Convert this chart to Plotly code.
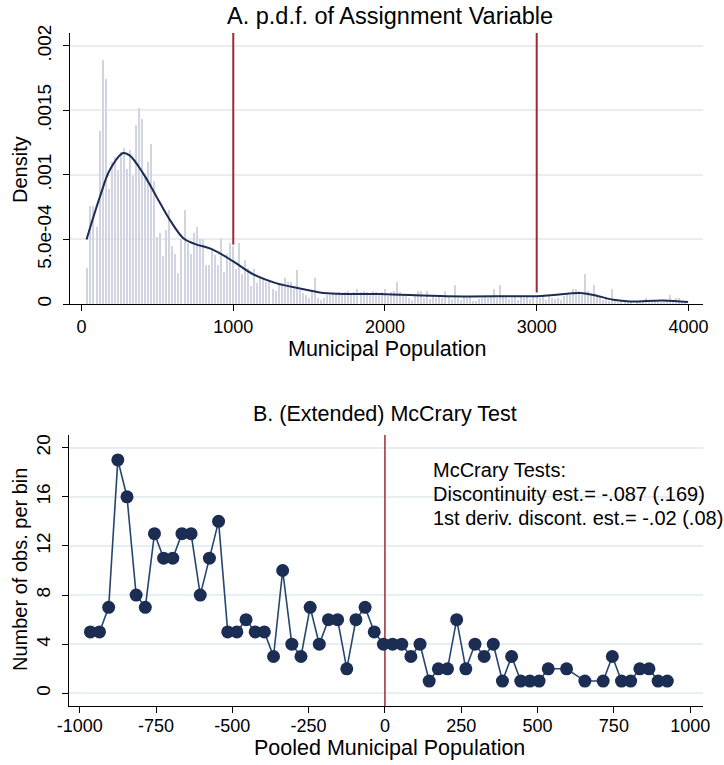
import plotly.graph_objects as go

W, H = 724, 765

# ---------------- Panel A data ----------------
hist_start = 40      # first bin centre
hist_width = 20      # bin width
hist_density_e3 = [  # density x 1e-3
    0.28, 0.76, 0.76, 0.60, 1.34, 1.89, 1.74, 0.89, 1.10, 1.14,
    1.04, 1.18, 1.21, 1.05, 1.19, 0.99, 1.39, 1.52, 1.43, 0.99,
    1.10, 1.24, 0.95, 0.52, 0.55, 0.37, 0.57, 0.73, 0.45, 0.39,
    0.24, 0.50, 0.73, 0.47, 0.39, 0.55, 0.60, 0.50, 0.50, 0.30,
    0.30, 0.42, 0.38, 0.30, 0.50, 0.25, 0.39, 0.47, 0.45, 0.27,
    0.47, 0.23, 0.34, 0.28, 0.14, 0.27, 0.16, 0.20, 0.20, 0.17,
    0.18, 0.12, 0.10, 0.15, 0.16, 0.20, 0.17, 0.17, 0.12, 0.26,
    0.11, 0.085, 0.07, 0.05, 0.11, 0.20, 0.05, 0.03, 0.05, 0.07,
    0.07, 0.085, 0.085, 0.09, 0.07, 0.09, 0.10, 0.08, 0.09, 0.12,
    0.09, 0.10, 0.09, 0.08, 0.10, 0.09, 0.07, 0.09, 0.12, 0.06,
    0.09, 0.10, 0.17, 0.09, 0.07, 0.07, 0.05, 0.03, 0.06, 0.10,
    0.10, 0.05, 0.10, 0.04, 0.06, 0.05, 0.06, 0.05, 0.10, 0.06,
    0.04, 0.15, 0.05, 0.03, 0.06, 0.05, 0.06, 0.02, 0.02, 0.04,
    0.05, 0.06, 0.05, 0.06, 0.12, 0.05, 0.15, 0.07, 0.06, 0.04,
    0.05, 0.06, 0.03, 0.06, 0.05, 0.06, 0.04, 0.06, 0.06, 0.05,
    0.07, 0.03, 0.06, 0.05, 0.04, 0.05, 0.03, 0.06, 0.07, 0.07,
    0.12, 0.12, 0.10, 0.07, 0.23, 0.10, 0.07, 0.15, 0.06, 0.05,
    0.03, 0.05, 0.02, 0.12, 0.02, 0.01, 0.02, 0.01, 0.02, 0.01,
    0.00, 0.02, 0.01, 0.02, 0.05, 0.02, 0.01, 0.02, 0.02, 0.01,
    0.03, 0.02, 0.07, 0.03, 0.05, 0.05, 0.02, 0.01,
]
hist_x = [hist_start + hist_width * i for i in range(len(hist_density_e3))]
hist_y = [v * 1e-3 for v in hist_density_e3]

kde_x = [33, 121, 187, 275, 319, 407, 495, 583, 671, 737, 868, 1000, 1132,
         1286, 1440, 1571, 1682, 1967, 2407, 2845, 3000, 3110, 3286, 3373,
         3505, 3615, 3833, 3998]
kde_y_e3 = [0.50, 0.83, 1.04, 1.17, 1.15, 1.01, 0.83, 0.65, 0.51, 0.47, 0.42,
            0.33, 0.23, 0.16, 0.12, 0.09, 0.08, 0.077, 0.06, 0.06, 0.06, 0.07,
            0.085, 0.07, 0.033, 0.02, 0.028, 0.015]
kde_y = [v * 1e-3 for v in kde_y_e3]

cutoffs = [1000, 3000]
cutoff_line_bottom = [0.00046, 0.00009]

top_xticks = [0, 1000, 2000, 3000, 4000]
top_yticks = [0, 0.0005, 0.001, 0.0015, 0.002]
top_yticktext = ["0", "5.0e-04", ".001", ".0015", ".002"]

# ---------------- Panel B data ----------------
bin_centres = [-965, -935, -905, -875, -845, -815, -785, -755, -725, -695,
               -665, -635, -605, -575, -545, -515, -485, -455, -425, -395,
               -365, -335, -305, -275, -245, -215, -185, -155, -125, -95,
               -65, -35, -5,
               25, 55, 85, 115, 145, 175, 205, 235, 265, 295, 325, 355, 385,
               415, 445, 475, 505, 535, 595, 655, 715, 745, 775, 805, 835,
               865, 895, 925]
obs_per_bin = [5, 5, 7, 19, 16, 8, 7, 13, 11, 11,
               13, 13, 8, 11, 14, 5, 5, 6, 5, 5,
               3, 10, 4, 3, 7, 4, 6, 6, 2, 6,
               7, 5, 4,
               4, 4, 3, 4, 1, 2, 2, 6, 2, 4, 3, 4, 1,
               3, 1, 1, 1, 2, 2, 1, 1, 3, 1, 1, 2,
               2, 1, 1]
bot_xticks = [-1000, -750, -500, -250, 0, 250, 500, 750, 1000]
bot_xticktext = ["-1000", "-750", "-500", "-250", "0", "250", "500", "750", "1000"]
bot_yticks = [0, 4, 8, 12, 16, 20]
mccrary_lines = ["McCrary Tests:",
                 "Discontinuity est.= -.087 (.169)",
                 "1st deriv. discont. est.= -.02 (.08)"]

# ---------------- styling ----------------
NAVY = "#1c2d54"
LINEBLUE = "#26466f"
RED = "#9e2b33"
BARC = "#d3d4e2"
GRID = "#e6eef2"
FONT = "Liberation Sans, Arial, sans-serif"

def px(x):
    return x / W

def py(y):
    return 1 - y / H

fig = go.Figure()

fig.add_trace(go.Bar(x=hist_x, y=hist_y, width=9, marker=dict(color=BARC, line=dict(width=0)),
                     xaxis="x", yaxis="y", showlegend=False))
fig.add_trace(go.Scatter(x=kde_x, y=kde_y, mode="lines", line=dict(color=NAVY, width=2, shape="spline"),
                         xaxis="x", yaxis="y", showlegend=False))
for c, b in zip(cutoffs, cutoff_line_bottom):
    fig.add_trace(go.Scatter(x=[c, c], y=[b, 0.0021], mode="lines", line=dict(color=RED, width=2),
                             xaxis="x", yaxis="y", showlegend=False))

fig.add_trace(go.Scatter(x=[0, 0], y=[-1.03, 21.03], mode="lines", line=dict(color=RED, width=1.5),
                         xaxis="x2", yaxis="y2", showlegend=False))
fig.add_trace(go.Scatter(x=bin_centres, y=obs_per_bin, mode="lines+markers",
                         line=dict(color=LINEBLUE, width=1.6),
                         marker=dict(color=NAVY, size=13, line=dict(width=0)),
                         xaxis="x2", yaxis="y2", showlegend=False))

base = dict(showline=True, linecolor="black", linewidth=1.2, ticks="outside",
            ticklen=6, tickcolor="black", tickwidth=1.2, zeroline=False,
            automargin=False)
xfont = dict(family=FONT, size=18, color="black")
yfont = dict(family=FONT, size=19, color="black")

fig.update_layout(
    width=W, height=H, margin=dict(l=0, r=0, t=0, b=0, pad=0),
    paper_bgcolor="white", plot_bgcolor="white", bargap=0,
    xaxis=dict(domain=[px(70), px(703)], range=[-76, 4096], tickvals=top_xticks,
               showgrid=False, anchor="y", tickfont=xfont, ticklabelstandoff=0, **base),
    yaxis=dict(domain=[py(304), py(33)], range=[0, 0.0021], tickvals=top_yticks,
               ticktext=top_yticktext, tickangle=-90, showgrid=True, gridcolor=GRID,
               gridwidth=1.5, anchor="x", tickfont=yfont, ticklabelstandoff=4, **base),
    xaxis2=dict(domain=[px(69), px(703)], range=[-1035, 1042], tickvals=bot_xticks,
                ticktext=bot_xticktext, showgrid=False, anchor="y2", tickfont=xfont,
                ticklabelstandoff=-3, **base),
    yaxis2=dict(domain=[py(706), py(435)], range=[-1.03, 21.03], tickvals=bot_yticks,
                tickangle=-90, showgrid=True, gridcolor=GRID, gridwidth=1.5, anchor="x2",
                tickfont=yfont, ticklabelstandoff=4, **base),
)

def ann(text, x, y, size, angle=0, xanchor="center"):
    fig.add_annotation(text=text, x=px(x), y=py(y), xref="paper", yref="paper",
                       showarrow=False, textangle=angle, xanchor=xanchor, yanchor="middle",
                       font=dict(family=FONT, size=size, color="black"))

ann("A. p.d.f. of Assignment Variable", 390, 16, 23.5)
ann("Density", 20, 170, 20, angle=-90)
ann("Municipal Population", 387, 349, 21.5)
ann("B. (Extended) McCrary Test", 385, 414, 21.5)
ann("Number of obs. per bin", 20, 570, 20, angle=-90)
ann("Pooled Municipal Population", 389, 748, 21.5)
for i, t in enumerate(mccrary_lines):
    ann(t, 431, 470 + 24 * i, 20, xanchor="left")

fig.write_html("out.html")
